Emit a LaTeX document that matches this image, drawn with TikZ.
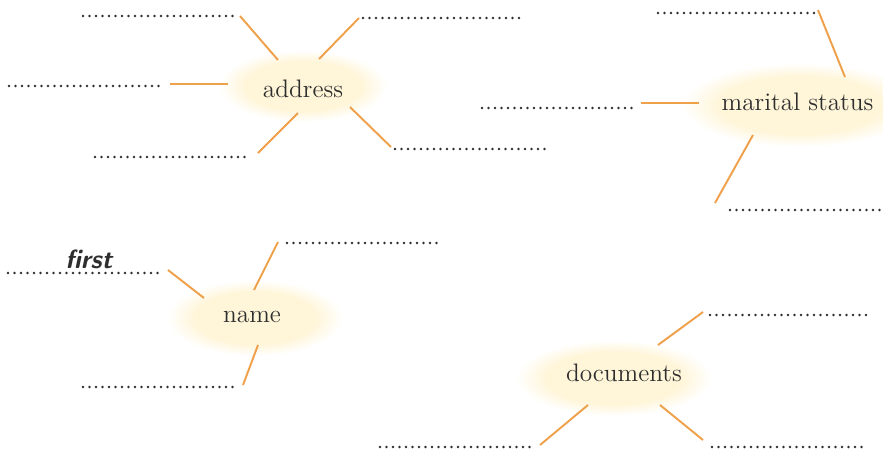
\documentclass[tikz,border=0pt]{standalone}
\usepackage{fontspec}
\usepackage{xcolor}
\usepackage{tikz}
\usetikzlibrary{calc}
\definecolor{ink}{HTML}{2E2E2E}
\definecolor{amber}{HTML}{EFA04A}
\definecolor{cream}{HTML}{FFF5D8}
\pgfdeclareradialshading{glow}{\pgfpoint{0bp}{0bp}}{color(0bp)=(cream); color(17bp)=(cream); color(25bp)=(white); color(50bp)=(white)}
\tikzset{
  blank/.style={draw=ink, line width=1.6pt, line cap=round, dash pattern=on 0pt off 3.7pt},
  link/.style={draw=amber, line width=1.1pt},
  halo/.style={shading=glow},
  hub/.style={text=ink, font=\fontsize{14.4}{17}\selectfont, inner sep=0pt},
  hand/.style={text=ink, font=\fontsize{15}{18}\selectfont\sffamily\bfseries\itshape, inner sep=0pt},
}

\begin{document}
\begin{tikzpicture}[x=0.02cm, y=-0.02cm]
  \useasboundingbox (0,0) rectangle (883,450);

  % glow behind each word
  \shade[halo] (303,86) ellipse (84 and 36);
  \shade[halo] (800,105) ellipse (118 and 42);
  \shade[halo] (255,318) ellipse (88 and 38);
  \shade[halo] (614,378) ellipse (98 and 38);

  \node[hub] (address) at (303,88.5) {address};
  \node[hub] (marital) at (797.5,101.5) {marital status};
  \node[hub] (name) at (252,316.5) {name};
  \node[hub] (docs) at (624,372.5) {documents};
  \node[hand] (first) at (89,259) {first};

  % address
  \coordinate (a1) at (240,16);  \coordinate (a1h) at (278,60);
  \coordinate (a2) at (359,18);  \coordinate (a2h) at (319,59);
  \coordinate (a3) at (170,84);  \coordinate (a3h) at (228,84);
  \coordinate (a4) at (258,153); \coordinate (a4h) at (298,113);
  \coordinate (a5) at (391,147); \coordinate (a5h) at (350,107);
  \draw[blank] (83,16) -- (237,16);
  \draw[blank] (363,18) -- (520,18);
  \draw[blank] (9,86) -- (165,86);
  \draw[blank] (95,157) -- (250,157);
  \draw[blank] (395,149) -- (551,149);
  \draw[link] (a1) -- (a1h);
  \draw[link] (a2) -- (a2h);
  \draw[link] (a3) -- (a3h);
  \draw[link] (a4) -- (a4h);
  \draw[link] (a5) -- (a5h);

  % marital status
  \coordinate (m1) at (818,10);  \coordinate (m1h) at (845,77);
  \coordinate (m2) at (641,103); \coordinate (m2h) at (699,103);
  \coordinate (m3) at (715,203); \coordinate (m3h) at (753,135);
  \draw[blank] (658,13) -- (815,13);
  \draw[blank] (482,108) -- (637,108);
  \draw[blank] (730,210) -- (880,210);
  \draw[link] (m1) -- (m1h);
  \draw[link] (m2) -- (m2h);
  \draw[link] (m3) -- (m3h);

  % name
  \coordinate (n1) at (168,270); \coordinate (n1h) at (204,298);
  \coordinate (n2) at (278,242); \coordinate (n2h) at (254,290);
  \coordinate (n3) at (243,385); \coordinate (n3h) at (258,345);
  \draw[blank] (8,273) -- (163,273);
  \draw[blank] (287,243) -- (440,243);
  \draw[blank] (83,387) -- (238,387);
  \draw[link] (n1) -- (n1h);
  \draw[link] (n2) -- (n2h);
  \draw[link] (n3) -- (n3h);

  % documents
  \coordinate (d1) at (703,312); \coordinate (d1h) at (658,345);
  \coordinate (d2) at (540,445); \coordinate (d2h) at (588,405);
  \coordinate (d3) at (703,440); \coordinate (d3h) at (660,405);
  \draw[blank] (710,315) -- (867,315);
  \draw[blank] (380,447) -- (535,447);
  \draw[blank] (712,447) -- (867,447);
  \draw[link] (d1) -- (d1h);
  \draw[link] (d2) -- (d2h);
  \draw[link] (d3) -- (d3h);
\end{tikzpicture}
\end{document}
